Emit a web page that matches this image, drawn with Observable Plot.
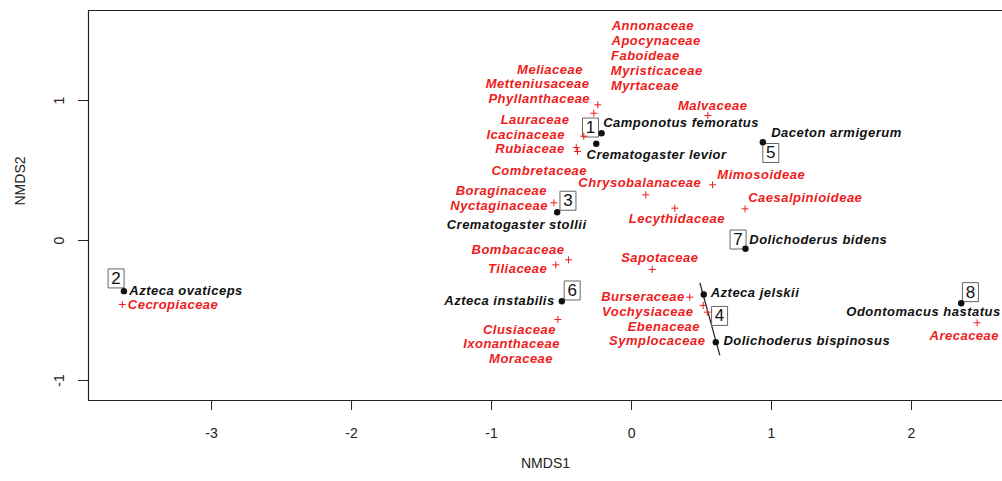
<!DOCTYPE html>
<html>
<head>
<meta charset="utf-8">
<script src="https://cdn.jsdelivr.net/npm/d3@7"></script>
<script src="https://cdn.jsdelivr.net/npm/@observablehq/plot@0.6"></script>
<style>
  html, body { margin: 0; padding: 0; background: #fff; }
  #chart svg { display: block; }
  .lbl text { letter-spacing: 0.5px; }
</style>
</head>
<body>
<div id="chart"></div>
<script>
// Ant species (NMDS scores) and their label positions
const antNames = ["Camponotus femoratus","Crematogaster levior","Daceton armigerum","Crematogaster stollii","Dolichoderus bidens","Azteca ovaticeps","Azteca instabilis","Azteca jelskii","Dolichoderus bispinosus","Odontomacus hastatus"];
const antX = [-0.214,-0.252,0.938,-0.531,0.814,-3.626,-0.498,0.516,0.602,2.355];
const antY = [0.766,0.691,0.702,0.202,-0.059,-0.362,-0.434,-0.386,-0.726,-0.448];
const antLabelX = [0.354,0.179,1.464,-0.821,1.334,-3.182,-0.943,0.882,1.252,2.086];
const antLabelY = [0.838,0.614,0.766,0.112,0.005,-0.357,-0.429,-0.374,-0.714,-0.512];

// Plant family scores (visible "+" markers)
const famX = [-0.241,-0.269,-0.341,-0.395,-0.386,0.545,0.102,0.579,0.309,0.811,-0.555,-0.450,-0.541,0.148,-0.526,0.416,0.512,0.541,-3.638,2.469];
const famY = [0.969,0.909,0.745,0.664,0.636,0.893,0.326,0.398,0.231,0.226,0.269,-0.138,-0.174,-0.207,-0.564,-0.405,-0.464,-0.512,-0.457,-0.588];

// Plant family labels
const famNames = ["Annonaceae","Apocynaceae","Faboideae","Myristicaceae","Myrtaceae","Meliaceae","Metteniusaceae","Phyllanthaceae","Malvaceae","Lauraceae","Icacinaceae","Rubiaceae","Combretaceae","Chrysobalanaceae","Mimosoideae","Boraginaceae","Nyctaginaceae","Caesalpinioideae","Lecythidaceae","Bombacaceae","Tiliaceae","Sapotaceae","Cecropiaceae","Arecaceae","Burseraceae","Vochysiaceae","Ebenaceae","Symplocaceae","Clusiaceae","Ixonanthaceae","Moraceae"];
const famLabelX = [0.152,0.176,0.099,0.180,0.096,-0.582,-0.671,-0.659,0.580,-0.689,-0.756,-0.725,-0.659,0.059,0.927,-0.930,-0.946,1.241,0.324,-0.811,-0.813,0.202,-3.275,2.377,0.082,0.116,0.231,0.184,-0.801,-0.857,-0.789];
const famLabelY = [1.536,1.424,1.321,1.214,1.107,1.219,1.119,1.012,0.964,0.861,0.758,0.655,0.500,0.409,0.471,0.354,0.251,0.305,0.155,-0.066,-0.202,-0.124,-0.459,-0.679,-0.400,-0.507,-0.619,-0.719,-0.638,-0.738,-0.845];

// Group number boxes
const groupIds = ["1","2","3","4","5","6","7","8"];
const groupX = [-0.293,-3.682,-0.454,0.629,0.995,-0.424,0.761,2.421];
const groupY = [0.807,-0.271,0.284,-0.539,0.625,-0.357,0.007,-0.369];

// Segment through group 4
const segX = [0.488,0.631];
const segY = [-0.302,-0.821];

// Axis ticks and domains
const xTicks = [-3,-2,-1,0,1,2];
const yTicks = [-1,0,1];
const xDomain = [-3.879, 2.65];
const yDomain = [-1.143, 1.643];

const ants = antNames.map((n,i)=>({name:n, x:antX[i], y:antY[i], lx:antLabelX[i], ly:antLabelY[i]}));
const fams = famX.map((x,i)=>({x, y:famY[i]}));
const famLabels = famNames.map((n,i)=>({name:n, x:famLabelX[i], y:famLabelY[i]}));
const groups = groupIds.map((g,i)=>({id:g, x:groupX[i], y:groupY[i]}));
const seg = [{x1:segX[0], y1:segY[0], x2:segX[1], y2:segY[1]}];

const red = "#ee1c1c";
const plusSymbol = {draw(ctx){ ctx.moveTo(-3.5,0); ctx.lineTo(3.5,0); ctx.moveTo(0,-3.5); ctx.lineTo(0,3.5); }};
const boxSymbol = {draw(ctx){ ctx.rect(-8,-9.5,16,19); }};
const fmt = d => String(d);

const chart = Plot.plot({
  width: 1002,
  height: 481,
  marginLeft: 88,
  marginRight: 0,
  marginTop: 10,
  marginBottom: 81,
  style: {fontFamily: "'Liberation Sans', Arial, sans-serif", background: "#fff"},
  x: {domain: xDomain},
  y: {domain: yDomain},
  marks: [
    Plot.ruleX([xDomain[0]], {stroke: "#222", strokeWidth: 1.2}),
    Plot.ruleY([yDomain[0], yDomain[1]], {stroke: "#222", strokeWidth: 1.2}),
    Plot.axisX({ticks: xTicks, tickFormat: fmt, tickSize: 10, tickPadding: 18, fontSize: 14, label: null, stroke: "#222", color: "#222"}),
    Plot.axisY({ticks: yTicks, tickFormat: fmt, tickSize: 10, tickPadding: 15, tickRotate: -90, fontSize: 14, label: null, stroke: "#222", color: "#222"}),
    Plot.text(["NMDS1"], {frameAnchor: "bottom", dy: 67, text: d => d, fontSize: 14, fill: "#222"}),
    Plot.text(["NMDS2"], {frameAnchor: "left", dx: -68, rotate: -90, text: d => d, fontSize: 14, fill: "#222"}),
    Plot.link(seg, {x1: "x1", y1: "y1", x2: "x2", y2: "y2", stroke: "#222", strokeWidth: 1.2}),
    Plot.dot(groups, {x: "x", y: "y", symbol: boxSymbol, r: 1, fill: "white", stroke: "#666", strokeWidth: 1}),
    Plot.text(groups, {x: "x", y: "y", text: "id", fontSize: 17, fill: "#111"}),
    Plot.dot(fams, {x: "x", y: "y", symbol: plusSymbol, r: 1, stroke: red, strokeWidth: 1, fill: "none"}),
    Plot.dot(ants, {x: "x", y: "y", r: 3.2, fill: "#111"}),
    Plot.text(famLabels, {x: "x", y: "y", text: "name", fill: red, fontSize: 13, fontWeight: "bold", fontStyle: "italic", className: "lbl"}),
    Plot.text(ants, {x: "lx", y: "ly", text: "name", fill: "#111", fontSize: 13, fontWeight: "bold", fontStyle: "italic", className: "lbl"})
  ]
});
document.getElementById("chart").appendChild(chart);
</script>
</body>
</html>
